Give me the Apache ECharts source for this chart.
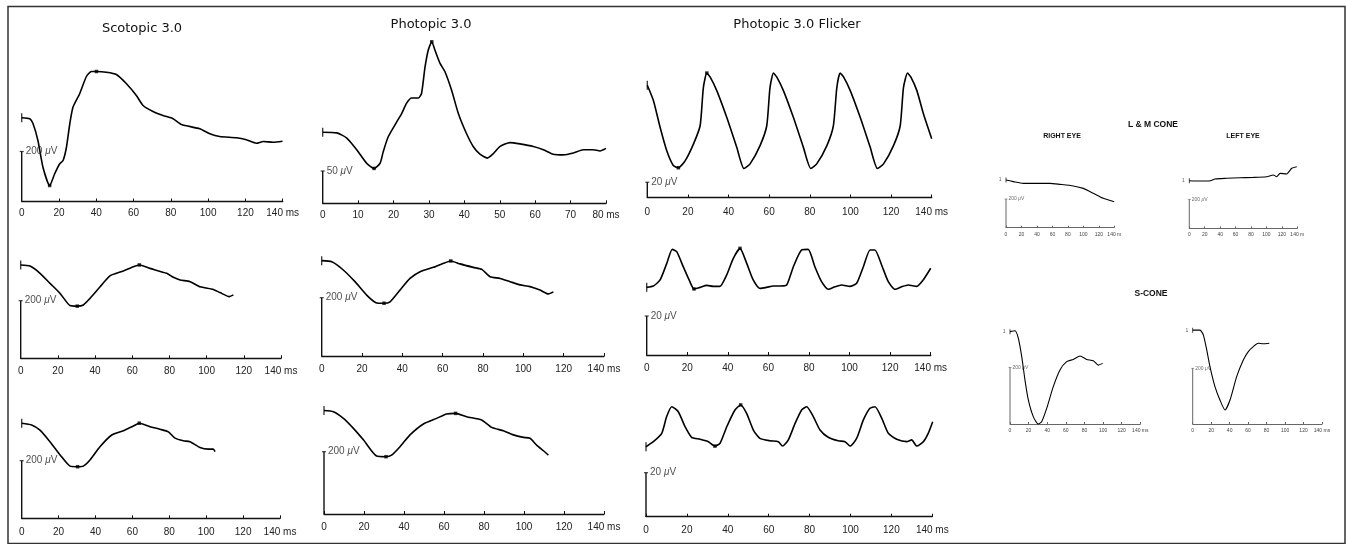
<!DOCTYPE html>
<html><head><meta charset="utf-8">
<script src="https://cdn.jsdelivr.net/npm/echarts@6/dist/echarts.min.js"></script>
<style>html,body{margin:0;padding:0;background:#fff}#c{width:1346px;height:544px}</style>
</head><body><div id="c"></div>
<script>
// ---- data (time in ms, amplitude in µV above the panel baseline) ----
const scotopic1 = [[0,335],[4.3,331],[6.1,311],[8.7,244],[11.4,137],[15.0,64],[17.7,111],[20.4,151],[22.2,164],[24.0,217],[25.8,311],[27.5,377],[31.1,431],[34.7,500],[37.4,520],[40.1,520],[45.4,517],[50.8,508],[56.2,471],[61.5,424],[65.1,384],[70.4,360],[75.8,344],[81.2,331],[85.7,308],[95.5,291],[100.9,271],[106.2,260],[115.2,255],[120.5,247],[125.9,233],[129.5,240],[134.8,237],[139.9,241]];
const scotopic1Marks = [[15.0,64],[40.1,520]];
const scotopic2 = [[0,324],[5.0,320],[10.4,295],[15.8,260],[21.1,226],[26.5,183],[30.4,181],[33.7,185],[37.3,208],[42.7,248],[48.0,286],[55.2,303],[60.6,318],[63.8,324],[69.5,312],[78.5,295],[82.1,281],[85.7,272],[91.1,266],[96.5,248],[103.6,239],[107.2,228],[112.2,214],[114.4,220]];
const scotopic2Marks = [[30.4,181],[63.8,324]];
const scotopic3 = [[0,330],[5.4,324],[9.9,306],[15.3,266],[20.8,220],[26.2,181],[30.3,179],[33.4,181],[37.0,202],[42.4,248],[48.8,289],[55.1,304],[60.5,320],[63.7,330],[69.5,318],[75.0,309],[79.5,300],[83.1,278],[87.6,269],[91.2,266],[96.6,246],[101.1,240],[103.8,240],[104.8,231]];
const scotopic3Marks = [[30.3,179],[63.7,330]];
const photopic1 = [[0,110],[4.0,109],[6.8,101],[9.6,83],[12.4,62],[14.5,54],[16.2,62],[17.1,80],[18.5,103],[20.9,126],[22.3,139],[23.7,155],[25.1,163],[27.0,163],[27.9,170],[28.9,211],[29.8,237],[30.8,250],[31.7,237],[33.1,217],[34.5,204],[36.4,175],[38.3,139],[40.6,108],[42.5,88],[44.4,76],[46.5,70],[48.2,77],[50.1,88],[52.9,94],[55.7,92],[59.5,88],[62.3,83],[65.1,76],[67.9,75],[70.8,78],[73.6,83],[76.4,83],[78.3,81],[80.0,85]];
const photopic1Marks = [[14.5,54],[30.8,250]];
const photopic2 = [[0,327],[5.0,323],[10.7,295],[16.5,255],[22.3,209],[26.9,183],[30.9,181],[33.9,186],[38.8,226],[43.8,266],[48.8,289],[55.4,304],[60.4,318],[64.0,326],[68.6,316],[75.2,304],[79.4,297],[83.5,272],[88.5,266],[93.4,255],[98.4,244],[103.3,238],[108.3,226],[112.4,213],[114.9,220]];
const photopic2Marks = [[30.9,181],[64.0,326]];
const photopic3 = [[0,332],[4.7,328],[9.7,307],[14.7,275],[19.7,238],[26.3,186],[31.0,184],[33.8,189],[38.0,216],[43.0,254],[49.7,289],[56.3,307],[61.3,321],[65.8,323],[71.3,312],[78.8,302],[83.8,278],[89.7,267],[94.7,254],[99.7,246],[103.0,243],[106.3,221],[109.7,203],[112.2,189]];
const photopic3Marks = [[31.0,184],[65.8,323]];
const flicker1 = [[0,147],[3.0,127],[6.3,92],[9.5,62],[12.8,42],[15.3,39],[18.6,48],[22.7,70],[26.0,94],[27.6,144],[29.3,163],[30.9,158],[34.2,140],[39.1,105],[44.0,66],[47.6,38],[50.6,44],[55.5,68],[58.8,94],[60.4,144],[62.1,163],[63.7,158],[67.0,140],[71.9,105],[76.8,66],[80.5,38],[83.4,44],[88.4,68],[91.6,94],[93.3,144],[94.9,163],[96.6,158],[99.9,140],[104.8,105],[109.7,66],[113.3,38],[116.3,44],[121.2,68],[124.5,94],[126.1,144],[128.1,163],[129.7,158],[132.7,140],[136.0,109],[140.0,77]];
const flicker1Marks = [[15.3,39],[29.3,163]];
const flicker2 = [[0,34.7],[3.3,35.4],[6.6,38.5],[9.9,47.0],[12.6,54.2],[14.8,53],[18.0,45.3],[21.3,37.6],[23.3,33.9],[26.3,34.7],[29.6,35.7],[32.8,35.2],[36.1,35.2],[39.4,41],[42.7,49.6],[46.0,54.7],[49.3,47],[52.5,38.5],[55.8,34.2],[59.1,34.7],[62.4,35.4],[65.7,35.4],[69.0,35.9],[72.3,45.3],[76.4,53.9],[79.6,54.2],[82.9,45.3],[86.2,37.6],[89.5,33.7],[92.8,35],[96.1,35.9],[100.2,35.2],[103.5,36.8],[106.8,45.3],[110.1,53.9],[112.5,53.9],[115.8,46.2],[119.1,37.6],[122.4,33.7],[125.7,35],[128.9,35.9],[133.1,35.2],[136.3,38.5],[140.0,44.5]];
const flicker2Marks = [[23.3,33.9],[46.0,54.7]];
const flicker3 = [[0,31.8],[3.6,34.1],[7.7,37.9],[10.1,45.5],[12.6,50],[15.8,47.7],[19.1,40.9],[22.3,36.1],[26.4,35.2],[30.5,34.1],[33.7,32.1],[36.2,33.4],[39.5,40.9],[43.5,48.5],[46.3,50.8],[49.2,47],[52.5,39.4],[55.7,35.6],[60.6,34.5],[64.7,34.1],[66.8,32.1],[69.6,34.9],[72.9,42.4],[76.1,48.5],[78.6,50],[81.8,45.5],[85.1,39.4],[89.1,36.1],[94.0,34.5],[97.3,34.1],[99.8,32.1],[103.0,35.6],[106.3,44],[109.5,49.3],[112.0,50],[115.3,44.7],[118.5,37.9],[122.6,35.2],[127.5,34.1],[129.9,34.9],[132.4,32.1],[135.6,34.1],[138.0,37.9],[140.2,43.2]];
const flicker3Marks = [[33.7,32.1],[46.3,50.8]];
const lmRight = [[0,332],[9.5,321],[22.4,309],[39.6,309],[56.8,309],[69.8,302],[87.0,291],[99.9,274],[112.8,240],[125.7,205],[139.9,181]];
const lmLeft = [[0,328],[13.9,326],[25.9,326],[33.3,340],[48.4,345],[65.7,349],[83.0,351],[100.3,356],[108.9,368],[113.3,356],[117.6,379],[126.3,375],[132.8,414],[139.3,425]];
const sRight = [[0,326],[5.4,329],[8.9,303],[12.6,238],[16.1,155],[19.7,85],[25.0,26],[30.4,0],[34.0,8],[39.4,55],[46.5,132],[53.7,191],[60.9,220],[68.0,228],[75.2,240],[82.4,228],[89.5,223],[94.9,208],[99.6,214]];
const sLeft = [[0,337],[7.9,337],[11.5,320],[15.2,266],[18.7,206],[24.1,134],[29.5,86],[35.0,50],[40.4,86],[47.6,170],[54.8,230],[60.2,260],[65.6,278],[71.0,290],[76.4,288],[82.9,290]];
const titles = ['Scotopic 3.0','Photopic 3.0','Photopic 3.0 Flicker'];
const smallTitles = ['L & M CONE','RIGHT EYE','LEFT EYE','S-CONE'];

// ---- layout ----
const panels = [
  {trace:scotopic1, marks:scotopic1Marks, bar:200, x0:21.7, x1:282.7, base:201.5, k:4.0, xmax:140, xint:20, unit:' ms', lm:7},
  {trace:scotopic2, marks:scotopic2Marks, bar:200, x0:20.7, x1:281, base:358.3, k:3.47, xmax:140, xint:20, unit:' ms', lm:8},
  {trace:scotopic3, marks:scotopic3Marks, bar:200, x0:21.7, x1:280, base:518.3, k:3.47, xmax:140, xint:20, unit:' ms', lm:9},
  {trace:photopic1, marks:photopic1Marks, bar:50, x0:322.7, x1:606, base:203.3, k:1.548, xmax:80, xint:10, unit:' ms', lm:7},
  {trace:photopic2, marks:photopic2Marks, bar:200, x0:321.7, x1:604, base:356, k:3.43, xmax:140, xint:20, unit:' ms', lm:8},
  {trace:photopic3, marks:photopic3Marks, bar:200, x0:324, x1:604, base:514, k:3.21, xmax:140, xint:20, unit:' ms', lm:8},
  {trace:flicker1, marks:flicker1Marks, bar:20, x0:647.3, x1:931.7, base:197.5, k:1.31, xmax:140, xint:20, unit:' ms', lm:10},
  {trace:flicker2, marks:flicker2Marks, bar:20, x0:646.7, x1:930.7, base:355, k:0.513, xmax:140, xint:20, unit:' ms', lm:8},
  {trace:flicker3, marks:flicker3Marks, bar:20, x0:646, x1:932.3, base:516.7, k:0.4545, xmax:140, xint:20, unit:' ms', lm:9},
  {trace:lmRight, marks:[], bar:200, x0:1006, x1:1114.3, base:227.7, k:6.97, xmax:140, xint:20, unit:' m', small:true, lm:4},
  {trace:lmLeft, marks:[], bar:200, x0:1189.3, x1:1297.3, base:228.3, k:6.9, xmax:140, xint:20, unit:' m', small:true, lm:4},
  {trace:sRight, marks:[], bar:200, x0:1010, x1:1140.3, base:424, k:3.53, xmax:140, xint:20, unit:' ms', small:true, lm:4},
  {trace:sLeft, marks:[], bar:200, x0:1192.7, x1:1322, base:424, k:3.59, xmax:140, xint:20, unit:' ms', small:true, lm:4}
];

const grid = [], xAxis = [], yAxis = [], series = [];
panels.forEach((p, i) => {
  const H = p.small ? 80 : 170;
  const fs = p.small ? 5 : 10;
  const axisCol = p.small ? '#666' : '#111';
  const lw = p.small ? 1 : 1.4;
  grid.push({left: p.x0, top: p.base - H, width: p.x1 - p.x0, height: H});
  xAxis.push({
    gridIndex: i, type: 'value', min: 0, max: p.xmax, interval: p.xint,
    axisLine: {show: true, onZero: false, lineStyle: {color: axisCol, width: lw}},
    axisTick: {show: true, inside: true, length: p.small ? 2 : 3, lineStyle: {color: axisCol, width: 1}},
    splitLine: {show: false},
    axisLabel: {
      show: true, margin: p.lm, fontSize: fs, color: p.small ? '#444' : '#222',
      fontFamily: 'Liberation Sans', showMinLabel: true, showMaxLabel: true,
      formatter: v => (v === p.xmax ? v + p.unit : String(v))
    }
  });
  yAxis.push({gridIndex: i, type: 'value', min: 0, max: H * p.k, show: false});
  const common = {xAxisIndex: i, yAxisIndex: i, animation: false, silent: true, clip: false};
  series.push(Object.assign({type: 'line', data: p.trace, showSymbol: false, symbol: 'none', smooth: 0.2,
    lineStyle: {color: '#000', width: p.small ? 1.1 : 1.6}, z: 3}, common));
  series.push(Object.assign({type: 'line', data: [[0, 0], [0, p.bar]], showSymbol: false, symbol: 'none',
    lineStyle: {color: axisCol, width: lw}, z: 2}, common));
  series.push(Object.assign({type: 'scatter', data: [[0, p.bar]], symbol: 'rect',
    symbolSize: p.small ? [3, 0.8] : [4, 1.2], itemStyle: {color: axisCol}, z: 4,
    label: {show: true, position: 'right', distance: p.small ? 1 : 2,
      formatter: '{n|' + p.bar + ' }{u|μ}{n|V}',
      rich: {n: {fontSize: fs, fontFamily: 'Liberation Sans', color: p.small ? '#444' : '#222'},
             u: {fontSize: fs, fontFamily: 'Liberation Sans', fontStyle: 'italic', color: p.small ? '#444' : '#222'}}}
  }, common));
  series.push(Object.assign({type: 'scatter', data: [p.trace[0]], symbol: 'rect',
    symbolSize: p.small ? [0.9, 5] : [1.3, 9], itemStyle: {color: '#000'}, z: 4,
    label: {show: !!p.small, position: 'left', distance: 4, formatter: '1', fontSize: 5,
      fontFamily: 'Liberation Sans', color: '#333'}}, common));
  if (p.marks.length) {
    series.push(Object.assign({type: 'scatter', data: p.marks, symbol: 'rect', symbolSize: 3.5,
      itemStyle: {color: '#000'}, z: 5}, common));
  }
});

const txt = (t, x, y, font) => ({type: 'text', x: x, y: y, silent: true,
  style: {text: t, font: font, fill: '#111', align: 'center', verticalAlign: 'middle'}});

const option = {
  backgroundColor: '#fff',
  animation: false,
  grid, xAxis, yAxis, series,
  graphic: [
    {type: 'rect', silent: true, shape: {x: 8, y: 6.5, width: 1337, height: 537},
      style: {fill: 'none', stroke: '#333', lineWidth: 1.5}},
    txt(titles[0], 142, 29, '13px "DejaVu Sans"'),
    txt(titles[1], 431, 25, '13px "DejaVu Sans"'),
    txt(titles[2], 797, 25, '13px "DejaVu Sans"'),
    txt(smallTitles[0], 1153, 125, 'bold 8.5px "Liberation Sans"'),
    txt(smallTitles[1], 1062, 136, 'bold 7px "Liberation Sans"'),
    txt(smallTitles[2], 1243, 136, 'bold 7px "Liberation Sans"'),
    txt(smallTitles[3], 1151, 294, 'bold 8.5px "Liberation Sans"')
  ]
};
const chart = echarts.init(document.getElementById('c'), null, {renderer: 'canvas'});
chart.setOption(option);
</script></body></html>
